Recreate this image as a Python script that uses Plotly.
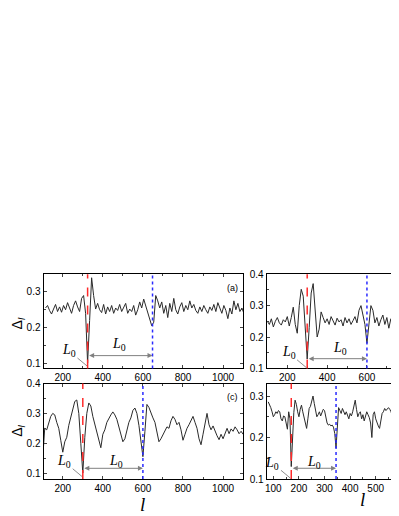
from typing import List

import plotly.graph_objects as go
from plotly.subplots import make_subplots

# panel (a)
a_x = list(range(114, 1105, 10))
a_y = [0.255, 0.262, 0.248, 0.238, 0.252, 0.265, 0.245, 0.258, 0.243, 0.262,
       0.250, 0.270, 0.255, 0.240, 0.262, 0.275, 0.258, 0.245, 0.282, 0.290,
       0.240, 0.100, 0.220, 0.340, 0.290, 0.252, 0.268, 0.250, 0.242, 0.265,
       0.238, 0.258, 0.245, 0.262, 0.240, 0.255, 0.248, 0.265, 0.245, 0.258,
       0.268, 0.240, 0.252, 0.245, 0.262, 0.235, 0.250, 0.272, 0.255, 0.280,
       0.262, 0.245, 0.230, 0.205, 0.215, 0.290, 0.275, 0.255, 0.272, 0.240,
       0.262, 0.228, 0.268, 0.245, 0.282, 0.250, 0.238, 0.258, 0.270, 0.245,
       0.262, 0.250, 0.275, 0.255, 0.265, 0.248, 0.240, 0.258, 0.245, 0.262,
       0.250, 0.240, 0.258, 0.248, 0.265, 0.245, 0.270, 0.252, 0.240, 0.262,
       0.248, 0.225, 0.255, 0.238, 0.275, 0.250, 0.268, 0.245, 0.255, 0.240]

# panel (b)
b_x = list(range(100, 761, 10))
b_y = [0.250, 0.240, 0.258, 0.232, 0.250, 0.262, 0.245, 0.238, 0.255, 0.248,
       0.265, 0.235, 0.262, 0.295, 0.240, 0.212, 0.300, 0.352, 0.330, 0.220,
       0.130, 0.230, 0.340, 0.370, 0.280, 0.200, 0.225, 0.280, 0.262, 0.245,
       0.258, 0.240, 0.265, 0.250, 0.238, 0.260, 0.248, 0.255, 0.235, 0.262,
       0.245, 0.258, 0.240, 0.252, 0.265, 0.245, 0.285, 0.300, 0.265, 0.240,
       0.180, 0.250, 0.300, 0.285, 0.245, 0.262, 0.235, 0.255, 0.270, 0.240,
       0.262, 0.228, 0.258, 0.245, 0.252, 0.240, 0.248]

# panel (c)
c_x = list(range(100, 1101, 10))
c_y = [0.150, 0.250, 0.245, 0.270, 0.290, 0.300, 0.295, 0.270, 0.250, 0.210,
       0.170, 0.205, 0.220, 0.260, 0.290, 0.320, 0.340, 0.345, 0.300, 0.200,
       0.100, 0.220, 0.300, 0.335, 0.325, 0.290, 0.265, 0.240, 0.210, 0.185,
       0.230, 0.245, 0.270, 0.285, 0.295, 0.305, 0.295, 0.280, 0.255, 0.230,
       0.205, 0.215, 0.245, 0.270, 0.285, 0.310, 0.318, 0.300, 0.260, 0.210,
       0.155, 0.240, 0.330, 0.320, 0.300, 0.285, 0.270, 0.235, 0.205, 0.215,
       0.228, 0.240, 0.255, 0.250, 0.275, 0.290, 0.280, 0.262, 0.270, 0.245,
       0.210, 0.230, 0.250, 0.262, 0.275, 0.290, 0.270, 0.250, 0.215, 0.195,
       0.230, 0.270, 0.300, 0.262, 0.245, 0.258, 0.240, 0.225, 0.212, 0.230,
       0.215, 0.235, 0.250, 0.232, 0.248, 0.240, 0.255, 0.245, 0.232, 0.240,
       0.230]

# panel (d)
d_x = list(range(80, 591, 5))
d_y = [0.286, 0.280, 0.272, 0.262, 0.250, 0.255, 0.262, 0.258, 0.265, 0.262,
       0.245, 0.240, 0.252, 0.250, 0.232, 0.220, 0.262, 0.245, 0.130, 0.200,
       0.260, 0.290, 0.280, 0.262, 0.250, 0.268, 0.278, 0.262, 0.250, 0.235,
       0.222, 0.245, 0.270, 0.275, 0.290, 0.300, 0.282, 0.262, 0.250, 0.255,
       0.262, 0.252, 0.260, 0.268, 0.265, 0.250, 0.235, 0.230, 0.232, 0.228,
       0.230, 0.225, 0.210, 0.175, 0.230, 0.272, 0.265, 0.258, 0.270, 0.262,
       0.255, 0.262, 0.250, 0.245, 0.258, 0.252, 0.262, 0.280, 0.290, 0.268,
       0.250, 0.258, 0.262, 0.245, 0.255, 0.240, 0.252, 0.262, 0.255, 0.248,
       0.235, 0.200, 0.255, 0.262, 0.245, 0.235, 0.228, 0.222, 0.245, 0.258,
       0.262, 0.270, 0.265, 0.268, 0.272, 0.268, 0.262, 0.250, 0.245, 0.240,
       0.238, 0.245, 0.250]

# red dashed / blue dotted marker positions, L0 arrow height
red_l = [324, 300, 300, 170]
blue_l = [648, 600, 600, 345]
arrow_y = [0.121, 0.131, 0.116, 0.126]
l0_label_x = [483, 466, 468, 259]
l0_label_y = [0.153, 0.164, 0.140, 0.141]
lead_y = [0.092, 0.102, 0.088, 0.102]

x_ranges = [[104, 1102], [96.5, 761], [104, 1102], [74, 591]]
y_ranges = [[0.085, 0.35], [0.1, 0.4], [0.08, 0.4], [0.1, 0.33]]
x_dticks = [200, 200, 200, 100]
y_dticks = [0.1, 0.1, 0.1, 0.1]
panel_tags = ["(a)", None, "(c)", None]

# the page body adds an 8 px offset, so the figure is a bit smaller than the window
OFF = 8
W, H = 399 - OFF, 516 - OFF
X_DOMAINS = [[(41.7 - OFF) / W, (242.7 - OFF) / W], [(266 - OFF) / W, 1.0]]
Y_DOMAINS = [[(H - (371 - OFF)) / H, (H - (274.5 - OFF)) / H],
             [(H - (484.3 - OFF)) / H, (H - (386.5 - OFF)) / H]]

TICK_FONT = dict(family="Liberation Sans, Arial", size=10, color="black")
SERIF = "Liberation Serif, Times New Roman"


def _px(x: float, y: float) -> dict:
    return dict(x=(x - OFF) / W, y=(H - (y - OFF)) / H, xref="paper", yref="paper",
                xanchor="center", yanchor="middle", borderpad=0)


def _add_panel(fig: go.Figure, idx: int, x_list: List[int], y_list: List[float]) -> None:
    row, col = idx // 2 + 1, idx % 2 + 1
    xr = "x" if idx == 0 else "x%d" % (idx + 1)
    yr = "y" if idx == 0 else "y%d" % (idx + 1)

    fig.add_trace(
        go.Scatter(x=x_list, y=y_list, mode="lines", line=dict(color="#2a2a2a", width=1)),
        row=row, col=col,
    )
    fig.add_vline(x=red_l[idx], line=dict(color="#ff2a2a", width=1.5, dash="dash"), row=row, col=col)
    fig.add_vline(x=blue_l[idx], line=dict(color="#2a2aff", width=1.5, dash="dot"), row=row, col=col)

    # double headed L0 arrow between the two lines
    fig.add_annotation(
        x=blue_l[idx], y=arrow_y[idx], ax=red_l[idx], ay=arrow_y[idx],
        xref=xr, yref=yr, axref=xr, ayref=yr, text="",
        showarrow=True, arrowside="end+start", arrowhead=2, arrowsize=1,
        arrowwidth=1, arrowcolor="#808080",
    )
    fig.add_annotation(
        x=l0_label_x[idx], y=l0_label_y[idx], xref=xr, yref=yr,
        text="<i>L</i><sub>0</sub>", showarrow=False,
        font=dict(family=SERIF, size=14, color="black"),
    )
    # L0 with leader line to the dip
    fig.add_annotation(
        x=red_l[idx] - 3, y=lead_y[idx], xref=xr, yref=yr,
        text="<i>L</i><sub>0</sub>", showarrow=True, arrowhead=0,
        arrowwidth=0.8, arrowcolor="#707070", ax=-18, ay=-15,
        font=dict(family=SERIF, size=14, color="black"),
    )
    if panel_tags[idx]:
        fig.add_annotation(
            x=0.985, y=0.93, xref=xr + " domain", yref=yr + " domain",
            xanchor="right", yanchor="top", text=panel_tags[idx], showarrow=False,
            font=dict(family="Liberation Sans, Arial", size=9, color="black"),
        )

    fig.update_xaxes(
        domain=X_DOMAINS[col - 1], range=x_ranges[idx], dtick=x_dticks[idx],
        ticks="inside", ticklen=3, showline=True, linecolor="black", linewidth=1,
        mirror="ticks" if col == 1 else True, showgrid=False, zeroline=False,
        tickfont=TICK_FONT, minor=dict(ticks="inside", ticklen=2, dtick=x_dticks[idx] / 2),
        row=row, col=col,
    )
    fig.update_yaxes(
        domain=Y_DOMAINS[row - 1], range=y_ranges[idx], dtick=y_dticks[idx],
        tickformat=".1f", ticks="inside", ticklen=3, showline=True, linecolor="black",
        linewidth=1, mirror="ticks" if col == 1 else False, showgrid=False, zeroline=False,
        tickfont=TICK_FONT, minor=dict(ticks="inside", ticklen=2, dtick=0.05),
        row=row, col=col,
    )


def _init_plot() -> go.Figure:
    fig = make_subplots(rows=2, cols=2)
    fig.update_layout(
        width=W, height=H,
        margin=dict(l=0, r=0, t=0, b=0),
        showlegend=False,
        plot_bgcolor="white",
        paper_bgcolor="white",
    )
    return fig


def _add_axis_titles(fig: go.Figure) -> None:
    for y_px in [325, 435]:
        fig.add_annotation(
            **_px(16, y_px),
            text="Δ<sub><i>l</i></sub>", textangle=-90, showarrow=False,
            font=dict(family="Liberation Sans, Arial", size=14, color="black"),
        )
    for x_px, y_px in [(141, 510), (362, 505)]:
        fig.add_annotation(
            **_px(x_px, y_px),
            text="<i>l</i>", showarrow=False,
            font=dict(family=SERIF, size=19, color="black"),
        )


fig = _init_plot()
_add_panel(fig, 0, a_x, a_y)
_add_panel(fig, 1, b_x, b_y)
_add_panel(fig, 2, c_x, c_y)
_add_panel(fig, 3, d_x, d_y)
_add_axis_titles(fig)

fig.write_html("out.html")
